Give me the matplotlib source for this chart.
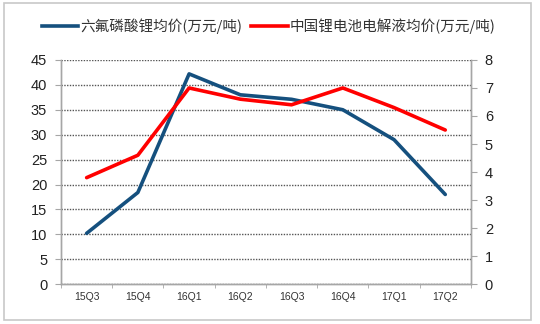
import matplotlib.pyplot as plt
from matplotlib.lines import Line2D
from matplotlib.patches import Rectangle
import numpy as np

plt.rcParams['font.family'] = ['Liberation Sans', 'Noto Sans CJK SC', 'DejaVu Sans']

quarters = ['15Q3', '15Q4', '16Q1', '16Q2', '16Q3', '16Q4', '17Q1', '17Q2']
lipf6_price = [10.2, 18.4, 42.2, 38.0, 37.1, 35.0, 29.0, 18.0]
electrolyte_price = [3.8, 4.6, 7.0, 6.6, 6.4, 7.0, 6.3, 5.5]
label_lipf6 = '六氟磷酸锂均价(万元/吨)'
label_elec = '中国锂电池电解液均价(万元/吨)'

blue = '#15507e'
red = '#ff0000'
grey = '#a6a6a6'

fig = plt.figure(figsize=(5.4, 3.24), dpi=100)
ax = fig.add_axes([0.113, 0.123, 0.759, 0.692])
ax2 = ax.twinx()

x = np.arange(len(quarters))
ax.plot(x, lipf6_price, color=blue, linewidth=2.6, solid_capstyle='round')
ax2.plot(x, electrolyte_price, color=red, linewidth=2.6, solid_capstyle='round')

ax.set_xlim(-0.5, len(quarters) - 0.5)
ax.set_ylim(0, 45)
ax.set_yticks(range(0, 46, 5))
ax2.set_ylim(0, 8)
ax2.set_yticks(range(0, 9))

ax.set_xticks(x)
ax.set_xticklabels(quarters, fontsize=7.5, color='#333333')
ax.set_xticks(np.arange(-0.5, len(quarters), 1), minor=True)
ax.tick_params(axis='x', which='major', length=0, pad=6)
ax.tick_params(axis='x', which='minor', length=3, color=grey, direction='out')

ax.tick_params(axis='y', labelsize=10.5, length=4, color=grey, pad=6, labelcolor='#222222')
ax2.tick_params(axis='y', labelsize=10.5, length=4, color=grey, pad=6, labelcolor='#222222')

ax.grid(axis='y', linestyle=(0, (1, 1)), color='#555555', linewidth=1.0)
ax.set_axisbelow(True)

for a in (ax, ax2):
    a.spines['top'].set_visible(False)
    for s in ('left', 'right', 'bottom'):
        a.spines[s].set_color(grey)
        a.spines[s].set_linewidth(1.0)

handles = [Line2D([], [], color=blue, linewidth=2.6),
           Line2D([], [], color=red, linewidth=2.6)]
fig.legend(handles, [label_lipf6, label_elec], loc='center', bbox_to_anchor=(0.498, 0.92),
           ncol=2, frameon=False, handlelength=2.5, handletextpad=0.15, columnspacing=0.6,
           labelcolor='#333333',
           prop={'family': ['Noto Sans CJK SC', 'DejaVu Sans'], 'size': 10.5})

fig.patches.append(Rectangle((0.007, 0.012), 0.977, 0.979, transform=fig.transFigure,
                             fill=False, edgecolor='#c8c8c8', linewidth=1.2))

fig.savefig('out.png', dpi=100)
